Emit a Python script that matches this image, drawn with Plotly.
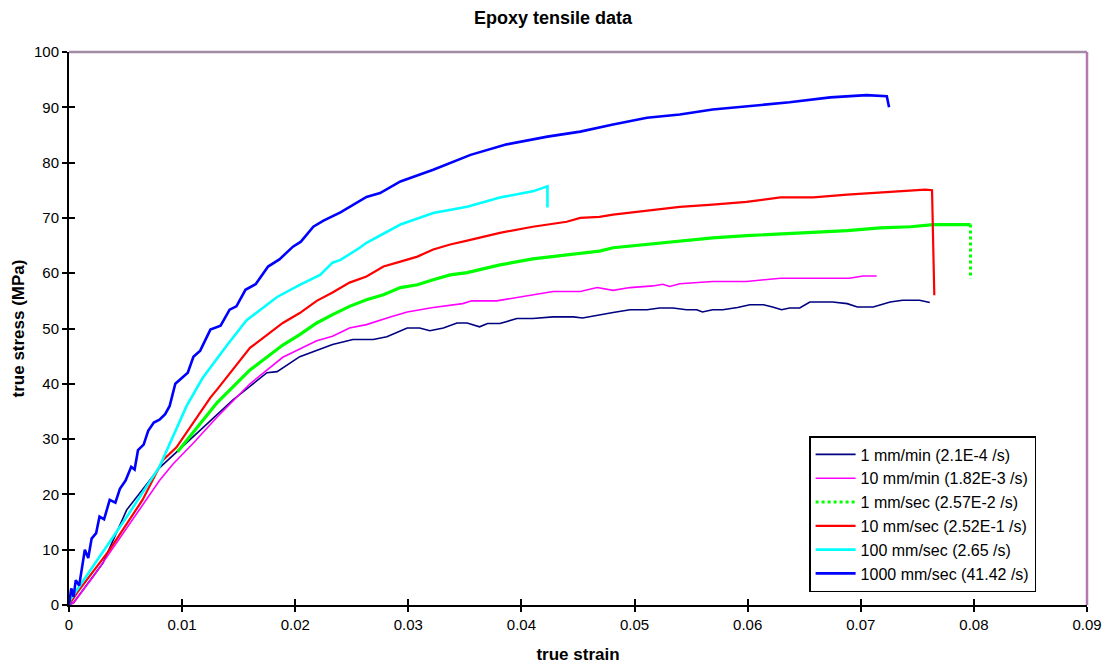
import plotly.graph_objects as go

# ---------------- data ----------------
labels = ["1 mm/min (2.1E-4 /s)", "10 mm/min (1.82E-3 /s)", "1 mm/sec (2.57E-2 /s)",
          "10 mm/sec (2.52E-1 /s)", "100 mm/sec (2.65 /s)", "1000 mm/sec (41.42 /s)"]

navy_strain = [0, 0.0004, 0.003, 0.0051, 0.008, 0.0089, 0.0116, 0.0145, 0.0175, 0.0184, 0.0204, 0.0219,
               0.0233, 0.0251, 0.0269, 0.0281, 0.0299, 0.031, 0.0319, 0.0331, 0.0343, 0.0352, 0.0363,
               0.037, 0.0381, 0.0396, 0.041, 0.0428, 0.0446, 0.0454, 0.0469, 0.0481, 0.0496, 0.0511,
               0.0522, 0.0534, 0.0546, 0.0555, 0.056, 0.0569, 0.0578, 0.0591, 0.0602, 0.0614, 0.0622,
               0.063, 0.0637, 0.0646, 0.0655, 0.0675, 0.0688, 0.0697, 0.0711, 0.0726, 0.0737, 0.0752, 0.0761]
navy_stress = [0, 0.4, 7.6, 17.2, 24.8, 26.5, 31.7, 37.1, 42, 42.2, 44.9, 46, 47.1, 48, 48, 48.5, 50.1,
               50.1, 49.6, 50.1, 51, 51, 50.3, 50.9, 50.9, 51.8, 51.8, 52.1, 52.1, 51.9, 52.5, 52.9, 53.4,
               53.4, 53.7, 53.7, 53.4, 53.4, 53, 53.4, 53.4, 53.8, 54.3, 54.3, 53.9, 53.4, 53.7, 53.7,
               54.8, 54.8, 54.5, 53.9, 53.9, 54.8, 55.1, 55.1, 54.7]

mag_strain = [0, 0.0004, 0.0021, 0.0051, 0.008, 0.0092, 0.011, 0.0131, 0.014, 0.016, 0.0189, 0.0204,
              0.0219, 0.0233, 0.0248, 0.0263, 0.0278, 0.0284, 0.0299, 0.031, 0.0322, 0.0348, 0.0356,
              0.0378, 0.0399, 0.041, 0.0428, 0.0452, 0.0467, 0.0481, 0.0496, 0.0516, 0.0525, 0.0531,
              0.054, 0.0569, 0.0599, 0.0629, 0.0658, 0.069, 0.0702, 0.0714]
mag_stress = [0, 0.4, 5, 14, 22.5, 25.5, 29.3, 34, 35.9, 40, 44.8, 46.3, 47.8, 48.6, 50.1, 50.7, 51.8,
              52.1, 53, 53.4, 53.8, 54.5, 55, 55, 55.7, 56.1, 56.7, 56.7, 57.4, 56.9, 57.4, 57.7, 58,
              57.6, 58.1, 58.5, 58.5, 59.1, 59.1, 59.1, 59.5, 59.5]

green_strain = [0.0096, 0.0131, 0.016, 0.0189, 0.0204, 0.0219, 0.0233, 0.0248, 0.0263, 0.0278, 0.0293,
                0.0308, 0.0322, 0.0337, 0.0352, 0.0381, 0.041, 0.044, 0.0469, 0.0481, 0.0511, 0.054,
                0.0569, 0.0599, 0.0629, 0.0658, 0.0688, 0.0717, 0.0744, 0.0764, 0.0797, 0.0797]
green_stress = [27.7, 36.6, 42.5, 47, 48.9, 51, 52.5, 54, 55.2, 56.1, 57.4, 57.9, 58.8, 59.7, 60.1, 61.5,
                62.6, 63.3, 64, 64.6, 65.2, 65.7, 66.4, 66.8, 67.1, 67.3, 67.7, 68.2, 68.4, 68.8, 68.8, 59]

red_strain = [0, 0.0007, 0.0036, 0.0065, 0.0083, 0.0095, 0.0125, 0.0131, 0.016, 0.0189, 0.0204, 0.0219,
              0.0233, 0.0248, 0.0263, 0.0278, 0.0293, 0.0308, 0.0322, 0.0337, 0.0352, 0.0381, 0.041,
              0.044, 0.0452, 0.0469, 0.0481, 0.0511, 0.054, 0.0569, 0.0599, 0.0629, 0.0658, 0.0688,
              0.0717, 0.0744, 0.0757, 0.0763, 0.0765]
red_stress = [0, 2.2, 10, 19, 26.2, 28.5, 37.5, 39, 46.5, 51, 52.8, 55, 56.5, 58.3, 59.4, 61.2, 62.1, 63,
              64.3, 65.2, 65.9, 67.3, 68.4, 69.3, 70, 70.2, 70.6, 71.3, 72, 72.4, 72.9, 73.7, 73.7, 74.2,
              74.6, 74.9, 75.1, 75, 56]

cyan_strain = [0, 0.0001, 0.0021, 0.0051, 0.008, 0.0104, 0.0118, 0.0139, 0.0157, 0.0184, 0.0204, 0.0213,
               0.0222, 0.0233, 0.024, 0.0257, 0.0263, 0.0293, 0.0322, 0.0352, 0.0381, 0.041, 0.0423, 0.0423]
cyan_stress = [0, 0.9, 6.9, 15.9, 25, 36, 41, 46.8, 51.5, 55.7, 57.9, 58.8, 59.7, 61.9, 62.4, 64.6, 65.5,
               68.8, 70.9, 72, 73.7, 74.8, 75.7, 71.9]

blue_strain = [0, 0.0002, 0.0004, 0.0006, 0.0009, 0.0012, 0.0014, 0.0017, 0.002, 0.0024, 0.0027, 0.0031,
               0.0036, 0.0041, 0.0045, 0.005, 0.0055, 0.0058, 0.0061, 0.0066, 0.007, 0.0075, 0.008,
               0.0085, 0.0089, 0.0094, 0.0105, 0.011, 0.0116, 0.0125, 0.0134, 0.0142, 0.0148, 0.0156,
               0.0165, 0.0176, 0.0186, 0.0198, 0.0205, 0.0216, 0.0225, 0.024, 0.0263, 0.0275, 0.0293,
               0.0322, 0.0355, 0.0387, 0.0423, 0.0452, 0.0481, 0.0511, 0.054, 0.0569, 0.0605, 0.0637,
               0.0673, 0.0705, 0.0723, 0.0725]
blue_stress = [0, 3, 1.5, 4.5, 3.5, 7, 10, 8.5, 12, 13, 16, 15.5, 19, 18.5, 21, 22.5, 25, 24.5, 28, 29,
               31.5, 33, 33.5, 34.5, 36, 40, 42, 44.9, 46, 49.8, 50.5, 53.4, 54, 57, 58, 61.2, 62.5, 64.8,
               65.7, 68.4, 69.5, 71, 73.8, 74.5, 76.6, 78.7, 81.4, 83.3, 84.7, 85.6, 86.9, 88.1, 88.7,
               89.6, 90.3, 90.9, 91.8, 92.2, 92, 90]

x_ticks = [0, 0.01, 0.02, 0.03, 0.04, 0.05, 0.06, 0.07, 0.08, 0.09]
x_ticktext = ["0", "0.01", "0.02", "0.03", "0.04", "0.05", "0.06", "0.07", "0.08", "0.09"]
y_ticks = [0, 10, 20, 30, 40, 50, 60, 70, 80, 90, 100]

# ---------------- figure ----------------
FONT = "Liberation Sans, Arial, sans-serif"
fig = go.Figure()

fig.add_trace(go.Scatter(x=navy_strain, y=navy_stress, mode="lines", name=labels[0],
                         line=dict(color="#000080", width=1.6)))
fig.add_trace(go.Scatter(x=mag_strain, y=mag_stress, mode="lines", name=labels[1],
                         line=dict(color="#FF00FF", width=1.6)))
fig.add_trace(go.Scatter(x=green_strain[:-1], y=green_stress[:-1], mode="lines", name=labels[2],
                         showlegend=False, legendgroup="g",
                         line=dict(color="#00FF00", width=3.2)))
fig.add_trace(go.Scatter(x=green_strain[-2:], y=green_stress[-2:], mode="lines", name=labels[2],
                         legendgroup="g",
                         line=dict(color="#00FF00", width=3, dash="dot")))
fig.add_trace(go.Scatter(x=red_strain, y=red_stress, mode="lines", name=labels[3],
                         line=dict(color="#FF0000", width=2.2)))
fig.add_trace(go.Scatter(x=cyan_strain, y=cyan_stress, mode="lines", name=labels[4],
                         line=dict(color="#00FFFF", width=2.6)))
fig.add_trace(go.Scatter(x=blue_strain, y=blue_stress, mode="lines", name=labels[5],
                         line=dict(color="#0000FF", width=2.6)))

# overlay axes to give crossing ticks
fig.add_trace(go.Scatter(x=[None], y=[None], xaxis="x2", yaxis="y2", showlegend=False,
                         hoverinfo="skip"))

axis_common = dict(showgrid=False, zeroline=False, linecolor="black", linewidth=2,
                   ticks="outside", ticklen=5, tickwidth=2, tickcolor="black", automargin=False,
                   tickfont=dict(family=FONT, size=15, color="black"))

fig.update_layout(
    width=1106, height=666,
    margin=dict(l=69, r=19, t=52, b=61),
    paper_bgcolor="white", plot_bgcolor="white",
    font=dict(family=FONT, color="black"),
    title=dict(text="<b>Epoxy tensile data</b>", x=0.5, xanchor="center",
               y=1 - 18 / 666, yanchor="middle", yref="container",
               font=dict(family=FONT, size=18, color="black")),
    xaxis=dict(range=[0, 0.09], tickvals=x_ticks, ticktext=x_ticktext, showline=True,
               title=dict(text="<b>true strain</b>", standoff=16,
                          font=dict(family=FONT, size=17, color="black")),
               **axis_common),
    yaxis=dict(range=[0, 100], tickvals=y_ticks, showline=True,
               title=dict(text="<b>true stress (MPa)</b>", standoff=5,
                          font=dict(family=FONT, size=17, color="black")),
               **axis_common),
    xaxis2=dict(range=[0, 0.09], overlaying="x", anchor="y2", side="bottom", tickvals=x_ticks,
                showticklabels=False, showgrid=False, zeroline=False, showline=False,
                ticks="inside", ticklen=6, tickwidth=2, tickcolor="black", automargin=False),
    yaxis2=dict(range=[0, 100], overlaying="y", anchor="x2", side="left", tickvals=y_ticks,
                showticklabels=False, showgrid=False, zeroline=False, showline=False,
                ticks="inside", ticklen=6, tickwidth=2, tickcolor="black", automargin=False),
    legend=dict(x=0.95, xanchor="right", y=0.0235, yanchor="bottom",
                bgcolor="white", bordercolor="black", borderwidth=1.5,
                font=dict(family=FONT, size=16, color="black"),
                tracegroupgap=0, itemwidth=40),
    showlegend=True,
    shapes=[
        dict(type="line", xref="x domain", yref="y domain", x0=0, x1=1, y0=1, y1=1,
             line=dict(color="#a58aa8", width=2.5), layer="below"),
        dict(type="line", xref="x domain", yref="y domain", x0=1, x1=1, y0=0, y1=1,
             line=dict(color="#b478b4", width=2.5), layer="below"),
    ],
)

fig.write_html("out.html")
